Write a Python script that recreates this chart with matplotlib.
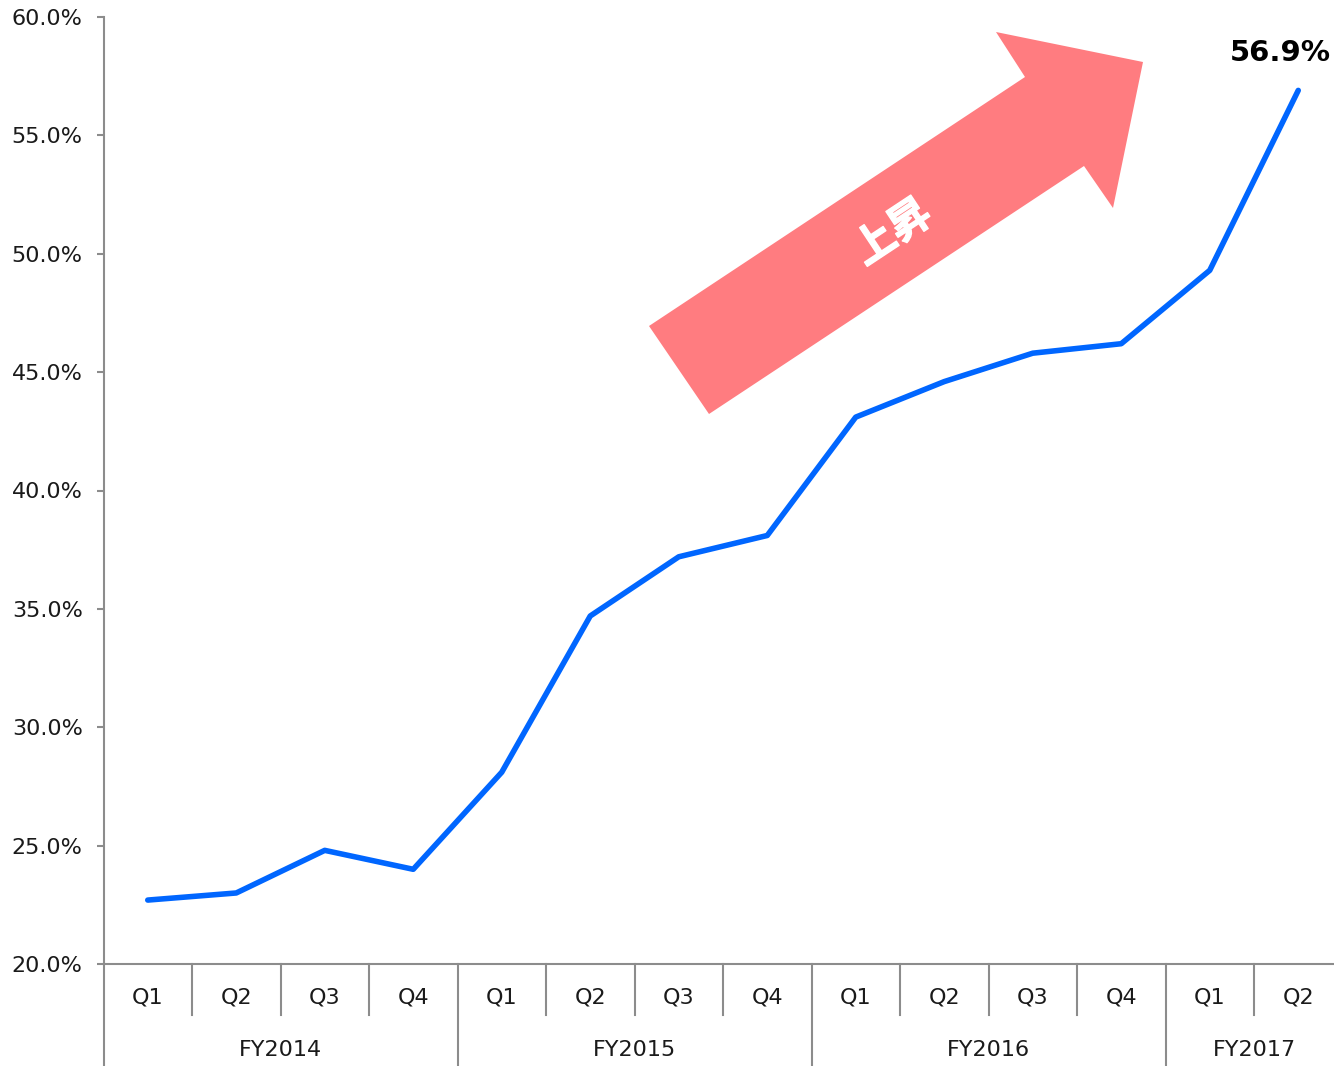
import matplotlib
matplotlib.use("Agg")
import matplotlib.pyplot as plt
from matplotlib.patches import Polygon
import matplotlib.transforms as mtrans
import matplotlib.patheffects as pe

quarters = ["Q1", "Q2", "Q3", "Q4", "Q1", "Q2", "Q3", "Q4",
            "Q1", "Q2", "Q3", "Q4", "Q1", "Q2"]
years = ["FY2014", "FY2015", "FY2016", "FY2017"]
year_sizes = [4, 4, 4, 2]
values = [22.7, 23.0, 24.8, 24.0, 28.1, 34.7, 37.2, 38.1,
          43.1, 44.6, 45.8, 46.2, 49.3, 56.9]

plt.rcParams['font.family'] = ['DejaVu Sans', 'Noto Sans CJK JP']

fig = plt.figure(figsize=(13.34, 10.66), dpi=100)
W, H = 1334, 1066
L, R, T, B = 103.5, 1342.5, 17, 964
ax = fig.add_axes([L / W, 1 - B / H, (R - L) / W, (B - T) / H])

grey = "#8c8c8c"
fs = 16
x = list(range(len(values)))
ax.plot(x, values, color="#0066FF", lw=4, solid_capstyle="round", zorder=3)

ax.set_xlim(-0.5, len(values) - 0.5)
ax.set_ylim(20, 60)
ax.set_yticks([20, 25, 30, 35, 40, 45, 50, 55, 60])
ax.set_yticklabels([f"{v:.1f}%" for v in ax.get_yticks()], fontsize=fs, color="#1a1a1a")
ax.tick_params(axis="y", direction="out", length=5, width=1.5, color=grey, pad=10)
ax.set_xticks([])
for s in ["top", "right"]:
    ax.spines[s].set_visible(False)
for s in ["left", "bottom"]:
    ax.spines[s].set_color(grey)
    ax.spines[s].set_linewidth(1.5)

# multi-level category axis
trans = mtrans.blended_transform_factory(ax.transData, ax.transAxes)
h_px = B - T
lvl1 = -(1015 - B) / h_px
lvl2 = -(1066 - B) / h_px
for i, q in enumerate(quarters):
    ax.text(i, -(998 - B) / h_px, q, transform=trans, ha="center", va="center",
            fontsize=fs, color="#1a1a1a")
starts = []
pos = 0
for n in year_sizes:
    starts.append(pos)
    pos += n
for i in range(1, len(quarters)):
    if i in starts:
        continue
    ax.plot([i - 0.5, i - 0.5], [0, lvl1], transform=trans, color=grey, lw=1.5,
            clip_on=False)
for s in starts:
    ax.plot([s - 0.5, s - 0.5], [0, lvl2], transform=trans, color=grey, lw=1.5,
            clip_on=False)
for yr, s, n in zip(years, starts, year_sizes):
    ax.text(s - 0.5 + n / 2, -(1050 - B) / h_px, yr, transform=trans, ha="center",
            va="center", fontsize=fs, color="#1a1a1a")

# last value label
ax.annotate(f"{values[-1]:.1f}%", xy=(x[-1], values[-1]), xytext=(-13, 27),
            textcoords="offset points", ha="center", va="center",
            fontsize=21, fontweight="bold", color="black")

# arrow decoration (axes fraction via pixel positions)
pts_px = [(709, 414), (649, 326), (1025, 77), (996, 32), (1143, 62), (1113, 208), (1084, 166)]
pts = [((px - L) / (R - L), (B - py) / (B - T)) for px, py in pts_px]
ax.add_patch(Polygon(pts, closed=True, transform=ax.transAxes, facecolor="#FF7C80",
                     edgecolor="none", zorder=2))
ax.text((893 - L) / (R - L), (B - 233) / (B - T), "上昇", transform=ax.transAxes,
        rotation=33.5, ha="center", va="center", fontsize=30, fontweight="bold",
        color="white", family=["Noto Sans CJK JP", "DejaVu Sans"], zorder=4,
        rotation_mode="anchor",
        path_effects=[pe.withStroke(linewidth=1.0, foreground="white")])

fig.savefig("out.png", dpi=100)
